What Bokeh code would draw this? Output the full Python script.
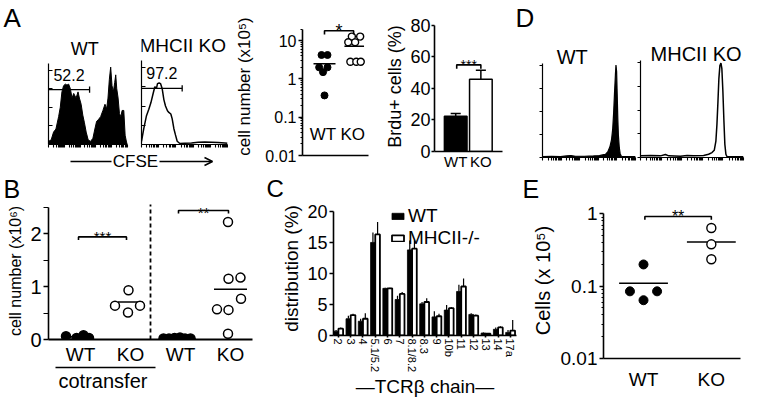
import math
from bokeh.plotting import figure
from bokeh.layouts import row, column
from bokeh.models import FixedTicker, LinearAxis, Legend, LegendItem, Arrow, OpenHead, Title
from bokeh.core.properties import value
from bokeh.embed import file_html
from bokeh.resources import INLINE

FONT = "Liberation Sans"

# ---------------- data ----------------
# A: CFSE histograms (channel 0-100, events)
cfse_wt_ch = [0, 3.4, 6.4, 9.4, 12.8, 14.9, 17, 19.1, 21.3, 23.4, 25.5, 27.7, 29.8, 31.9, 34.9, 37.4,
              39.1, 41.3, 43.4, 45.5, 47.7, 50.2, 53.2, 56.2, 58.7, 60.9, 63, 66, 68.9, 71.5, 73.6,
              75.3, 77, 78.7, 80.4, 82.1, 83.8, 85.1, 86.4, 88.1, 89.8, 91.5, 93.2, 95.3, 97, 98.7, 100]
cfse_wt_ev = [10, 15, 40, 50, 90, 120, 170, 190, 195, 192, 195, 180, 150, 165, 150, 170, 150, 130,
              95, 70, 40, 15, 10, 20, 50, 75, 80, 90, 110, 130, 115, 150, 210, 250, 190, 170, 200,
              225, 180, 150, 100, 90, 110, 110, 30, 8, 3]
cfse_ko_ch = [0, 2.7, 5.8, 8.5, 10.9, 13.6, 15.5, 17.4, 18.6, 20.5, 22.1, 24, 26, 27.9, 30.2, 31.8,
              34.1, 35.7, 37.6, 39.5, 41.5, 44.6, 50.4, 58.1, 65.9, 73.6, 81.4, 89.1, 96.9, 100]
cfse_ko_ev = [10, 50, 90, 110, 130, 160, 180, 175, 190, 192, 190, 175, 140, 120, 105, 100, 95, 80,
              50, 30, 10, 3, 4, 5, 7, 8, 7, 6, 5, 4]
gate_pct = ["52.2", "97.2"]
gate_end = [52, 47.3]
gate_level = [177, 175]
hist_titles = ["WT", "MHCII KO"]

# A: cell number (x10^5)
groups2 = ["WT", "KO"]
asc_wt = [4.2, 4.2, 2.0, 2.0, 1.5, 0.37]
asc_wt_jit = [-0.1, 0.1, -0.18, 0.1, -0.05, 0.0]
asc_ko = [12.7, 12.7, 9.0, 9.0, 2.8, 2.8, 2.8]
asc_ko_jit = [-0.08, 0.2, -0.2, 0.03, -0.13, 0.07, 0.22]
asc_mean = [2.47, 7.1]

# A: Brdu+ cells (%)
abar_mean = [22.3, 45.8]
abar_err = [1.8, 5.7]

# D: histograms
d_wt_ch = [0, 9.7, 19.4, 25.8, 30.6, 35.5, 45.2, 54.8, 61.3, 64.5, 67.7, 70.3, 72.6, 74.2, 75.5,
           76.5, 77.4, 78.4, 79, 79.7, 80.3, 81, 81.6, 82.6, 83.5, 84.8, 87.1, 93.5, 100]
d_wt_ev = [3, 4, 3, 5, 6, 4, 4, 5, 6, 8, 10, 18, 35, 55, 90, 140, 200, 260, 290, 270, 200, 120,
           70, 30, 12, 4, 3, 3, 3]
d_ko_ch = [0, 9.7, 19.4, 24.2, 27.4, 38.7, 45.2, 51.6, 61.3, 66.1, 69.4, 71.6, 73.2, 74.2, 75.2,
           76.1, 77.1, 78.1, 79, 80, 81, 81.9, 82.9, 83.9, 90.3, 100]
d_ko_ev = [5, 6, 5, 9, 5, 4, 6, 5, 6, 10, 15, 22, 50, 100, 170, 240, 280, 287, 270, 200, 110, 40,
           10, 3, 2, 2]

# B: cell number (x10^6)
b_labels = ["WT", "KO", "WT", "KO"]
b_vals = [[0.06, 0.03, 0.08, 0.03],
          [0.93, 0.64, 0.64, 0.51],
          [0.02, 0.02, 0.03, 0.04, 0.02, 0.02],
          [2.22, 1.15, 1.17, 0.77, 0.56, 0.57, 0.11]]
b_jit = [[-0.29, -0.08, 0.06, 0.17],
         [-0.04, -0.31, 0.19, -0.05],
         [-0.34, -0.23, -0.12, -0.01, 0.09, 0.2],
         [-0.05, -0.04, 0.2, 0.21, -0.04, -0.27, -0.05]]
b_filled = [True, False, True, False]
b_mean = [0.05, 0.71, 0.02, 0.95]

# C: TCR Vbeta distribution (%)
c_labels = ["2", "3", "4", "5.1/5.2", "6", "7", "8.1/8.2", "8.3", "9", "10b", "11", "12", "13", "14", "17a"]
c_wt = [0.7, 2.7, 2.3, 15.0, 7.6, 5.8, 13.8, 5.1, 3.0, 4.1, 7.1, 3.4, 0.4, 1.0, 0.5]
c_wt_err = [0.2, 0.5, 0.4, 1.6, 0.1, 0.6, 1.5, 0.3, 0.9, 0.8, 1.1, 0.2, 0.1, 0.3, 0.4]
c_ko = [1.1, 3.3, 2.7, 16.3, 7.6, 6.7, 14.0, 5.4, 3.1, 4.4, 7.9, 3.2, 0.3, 1.3, 0.8]
c_ko_err = [0.2, 0.2, 0.9, 2.0, 0.1, 0.3, 1.3, 0.6, 0.4, 0.2, 1.3, 0.2, 0.1, 0.2, 1.7]

# E: Cells (x10^5)
e_wt = [0.2, 0.085, 0.085, 0.064]
e_wt_jit = [0.0, -0.2, 0.2, 0.0]
e_ko = [0.64, 0.38, 0.236]
e_ko_jit = [0.0, 0.0, 0.0]
e_mean = [0.11, 0.41]


# ---------------- helpers ----------------
def mk(w, h, L, R, T, B, xr, yr, ylog=False, axes=True):
    kw = {}
    if not axes:
        kw = dict(x_axis_location=None, y_axis_location=None)
    p = figure(width=w, height=h, x_range=xr, y_range=yr,
               y_axis_type="log" if ylog else "linear",
               output_backend="svg", toolbar_location=None, frame_align=False,
               min_border_left=L, min_border_right=R, min_border_top=T, min_border_bottom=B, **kw)
    p.outline_line_color = None
    p.xgrid.visible = False
    p.ygrid.visible = False
    p.background_fill_color = "white"
    p.border_fill_color = "white"
    return p


def letter(p, t, offset, fs=26):
    p.add_layout(Title(text=t, align="left", offset=offset, text_font=FONT,
                       text_font_size=f"{fs}px", text_font_style="normal", text_color="black",
                       standoff=0, vertical_align="bottom"), "above")


def ax_style(ax, fs=18, lw=1.6, tick_out=4, tick_in=0, minor_out=0, minor_in=0, standoff=2):
    ax.axis_line_color = "black"
    ax.axis_line_width = lw
    ax.major_tick_line_color = "black"
    ax.major_tick_line_width = lw
    ax.major_tick_out = tick_out
    ax.major_tick_in = tick_in
    ax.minor_tick_line_color = "black" if (minor_out or minor_in) else None
    ax.minor_tick_out = minor_out
    ax.minor_tick_in = minor_in
    ax.minor_tick_line_width = 1.1
    ax.major_label_text_font = FONT
    ax.major_label_text_font_size = f"{fs}px"
    ax.major_label_text_color = "black"
    ax.major_label_standoff = standoff
    ax.axis_label_text_font = FONT
    ax.axis_label_text_font_style = "normal"
    ax.axis_label_text_color = "black"


def dtext(p, x, y, t, fs, align="center", baseline="middle"):
    p.text(x=[x], y=[y], text=[t], text_font=value(FONT), text_font_size=f"{fs}px",
           text_align=align, text_baseline=baseline, text_color="black")


def bracket(p, x0, x1, y, ylow, t, fs, ty=None):
    p.line([x0, x0, x1, x1], [ylow, y, y, ylow], line_color="black", line_width=1.6)
    dtext(p, (x0 + x1) / 2, y if ty is None else ty, t, fs, baseline="alphabetic")


def log_minor(lo_exp, hi_exp, top):
    out = []
    for e in range(lo_exp, hi_exp + 1):
        for k in range(2, 10):
            v = k * 10 ** e
            if v <= top:
                out.append(v)
    return out


def flow_axes(p, yticks, ybound, yin=True):
    ya = p.yaxis[0]
    ax_style(ya, lw=1.2, tick_out=0, minor_in=4 if yin else 0, minor_out=0 if yin else 3, standoff=0)
    ya.ticker = FixedTicker(ticks=[], minor_ticks=yticks)
    ya.bounds = (0, ybound)
    xa = p.xaxis[0]
    ax_style(xa, lw=1.2, tick_out=0, minor_out=3, standoff=0)
    xt = [d * 20 + 20 * math.log10(k) for d in range(5) for k in range(1, 10)] + [100]
    xa.ticker = FixedTicker(ticks=[], minor_ticks=xt)


# ---------------- panel A histograms ----------------
# frame: 116 px tall, histogram area = lower 84 px (262 events)
A_YMAX = 262 * 116 / 84
p_awt = mk(136, 150, 48, 9, 28, 6, (0, 100), (0, A_YMAX))
p_awt.varea(x=cfse_wt_ch, y1=0, y2=cfse_wt_ev, fill_color="black")
p_awt.line(cfse_wt_ch, cfse_wt_ev, line_color="black", line_width=1)
flow_axes(p_awt, [0, 60, 120, 180, 240], 262)

p_ako = mk(92, 150, 5, 1, 28, 6, (0, 100), (0, A_YMAX))
p_ako.line(cfse_ko_ch, cfse_ko_ev, line_color="black", line_width=1.5)
flow_axes(p_ako, [0, 60, 120, 180, 240], 262)

for p, ge, gl, gp in [(p_awt, gate_end[0], gate_level[0], gate_pct[0]),
                      (p_ako, gate_end[1], gate_level[1], gate_pct[1])]:
    p.line([0, ge], [gl, gl], line_color="black", line_width=1.3)
    p.segment(x0=[ge], y0=[gl - 10], x1=[ge], y1=[gl + 10], line_color="black", line_width=1.3)
    dtext(p, ge / 2, 224, gp, 16)

dtext(p_awt, 46, 309, hist_titles[0], 18, baseline="alphabetic")
dtext(p_ako, 48, 309, hist_titles[1], 19, baseline="alphabetic")
letter(p_awt, "A", -45)

p_arrow = mk(228, 22, 0, 0, 0, 0, (0, 228), (0, 22), axes=False)
p_arrow.segment(x0=[70], y0=[11], x1=[111], y1=[11], line_color="black", line_width=1.5)
p_arrow.add_layout(Arrow(end=OpenHead(size=8, line_width=1.5, line_color="black"),
                         x_start=159, y_start=11, x_end=212, y_end=11,
                         line_color="black", line_width=1.5))
dtext(p_arrow, 135, 11, "CFSE", 17)

# ---------------- panel A cell number ----------------
p_asc = mk(142, 172, 74, 2, 17, 17, (0.26, 2.48), (0.01, 40), ylog=True)
ya = p_asc.yaxis[0]
ax_style(ya, fs=16, tick_out=4, minor_out=2, standoff=2)
ya.ticker = FixedTicker(ticks=[0.01, 0.1, 1, 10], minor_ticks=log_minor(-2, 1, 20))
ya.major_label_overrides = {0.01: "0.01", 0.1: "0.1", 1: "1", 10: "10"}
ya.bounds = (0.01, 20)
ya.axis_label = "cell number (x10\u2075)"
ya.axis_label_text_font_size = "17px"
ya.axis_label_standoff = 8
xa = p_asc.xaxis[0]
ax_style(xa, tick_out=0, standoff=0)
xa.ticker = FixedTicker(ticks=[])

p_asc.segment(x0=[1 - 0.37, 2 - 0.33], y0=asc_mean, x1=[1 + 0.37, 2 + 0.33], y1=asc_mean,
              line_color="black", line_width=1.5)
p_asc.scatter([1 + j for j in asc_wt_jit], asc_wt, size=7, fill_color="black", line_color="black")
p_asc.scatter([2 + j for j in asc_ko_jit], asc_ko, size=7, fill_color="white", line_color="black",
              line_width=1.4)
bracket(p_asc, 1.0, 1.98, 18, 14.5, "*", 18)
for i, g in enumerate(groups2):
    dtext(p_asc, i + 1 - 0.05, 0.035, g, 17)

# ---------------- panel A Brdu ----------------
p_abar = mk(134, 172, 64, 2, 21, 19, (0.157, 2.86), (0, 82.5))
p_abar.vbar(x=[1, 2], top=abar_mean, width=0.9, fill_color=["black", "white"], line_color="black",
            line_width=1.5)
tops = [m + e for m, e in zip(abar_mean, abar_err)]
p_abar.segment(x0=[1, 2], y0=abar_mean, x1=[1, 2], y1=tops, line_color="black", line_width=1.5)
p_abar.segment(x0=[0.8, 1.8], y0=tops, x1=[1.2, 2.2], y1=tops, line_color="black", line_width=1.5)
bracket(p_abar, 1.04, 2.0, 55, 52.5, "***", 14)
yb = p_abar.yaxis[0]
ax_style(yb, fs=18, tick_out=3, standoff=1)
yb.ticker = FixedTicker(ticks=[0, 20, 40, 60, 80])
yb.bounds = (0, 80)
yb.axis_label = "Brdu+ cells (%)"
yb.axis_label_text_font_size = "18px"
yb.axis_label_standoff = 2
xb = p_abar.xaxis[0]
ax_style(xb, fs=15, tick_out=0, standoff=1)
xb.ticker = FixedTicker(ticks=[1, 2])
xb.major_label_overrides = {1: groups2[0], 2: groups2[1]}

# ---------------- panel D ----------------
# frame: 129 px tall, histogram area = lower 97 px (295 events)
D_YMAX = 295 * 129 / 97
p_dwt = mk(133, 172, 38, 2, 28, 15, (0, 100), (0, D_YMAX))
p_dwt.varea(x=d_wt_ch, y1=0, y2=d_wt_ev, fill_color="black")
p_dwt.line(d_wt_ch, d_wt_ev, line_color="black", line_width=1.2)
p_dko = mk(112, 172, 3, 6, 28, 15, (0, 100), (0, D_YMAX))
p_dko.line(d_ko_ch, d_ko_ev, line_color="black", line_width=1.5)
for p in (p_dwt, p_dko):
    flow_axes(p, [0, 72, 144, 216, 288], 295, yin=False)
dtext(p_dwt, 32, 316, hist_titles[0], 20, baseline="alphabetic")
dtext(p_dko, 54, 316, hist_titles[1], 20, baseline="alphabetic")
letter(p_dwt, "D", -27)

# ---------------- panel B ----------------
p_b = mk(262, 229, 48, 10, 28, 62, (0.36, 4.44), (0, 2.59))
halfw = [0.25, 0.25, 0.3, 0.33]
for i, (vals, jit, filled, m, hw) in enumerate(zip(b_vals, b_jit, b_filled, b_mean, halfw)):
    xpos = i + 1
    p_b.segment(x0=[xpos - hw], y0=[m], x1=[xpos + hw], y1=[m], line_color="black", line_width=1.5)
    p_b.scatter([xpos + j for j in jit], vals, size=9,
                fill_color="black" if filled else "white", line_color="black", line_width=1.5)
p_b.segment(x0=[2.4], y0=[0], x1=[2.4], y1=[2.55], line_color="black", line_width=1.8,
            line_dash="4 3")
bracket(p_b, 0.96, 1.92, 1.94, 1.88, "***", 15)
bracket(p_b, 2.96, 3.96, 2.44, 2.38, "**", 15, ty=2.40)
ybb = p_b.yaxis[0]
ax_style(ybb, fs=20, tick_out=5, minor_out=5, standoff=2)
ybb.ticker = FixedTicker(ticks=[0, 1, 2], minor_ticks=[0.5, 1.5, 2.5])
ybb.bounds = (0, 2.5)
ybb.axis_label = "cell number (x10\u2076)"
ybb.axis_label_text_font_size = "16px"
ybb.axis_label_standoff = 3
xbb = p_b.xaxis[0]
ax_style(xbb, fs=19, tick_out=0, lw=1.8, standoff=4)
xbb.ticker = FixedTicker(ticks=[1, 2, 3, 4])
xbb.major_label_overrides = {i + 1: t for i, t in enumerate(b_labels)}
cot = LinearAxis(ticker=FixedTicker(ticks=[]), bounds=(0.5, 2.5))
ax_style(cot, tick_out=0, lw=1.3, standoff=0)
p_b.add_layout(cot, "below")
p_b.add_layout(Title(text="cotransfer", align="left", offset=10, text_font=FONT,
                     text_font_size="20px", text_font_style="normal", text_color="black",
                     standoff=0), "below")
letter(p_b, "B", -45, 25)

# ---------------- panel C ----------------
p_c = mk(255, 229, 71, 1, 27, 66, (-0.4, 14.5), (0, 21.6))
xi = list(range(len(c_labels)))
r_wt = p_c.vbar(x=[i - 0.19 for i in xi], top=c_wt, width=0.38, fill_color="black",
                line_color="black", line_width=0.8)
r_ko = p_c.vbar(x=[i + 0.19 for i in xi], top=c_ko, width=0.38, fill_color="white",
                line_color="black", line_width=1.8)
p_c.segment(x0=[i - 0.19 for i in xi], y0=c_wt, x1=[i - 0.19 for i in xi],
            y1=[m + e for m, e in zip(c_wt, c_wt_err)], line_color="black", line_width=1.2)
p_c.segment(x0=[i + 0.19 for i in xi], y0=c_ko, x1=[i + 0.19 for i in xi],
            y1=[m + e for m, e in zip(c_ko, c_ko_err)], line_color="black", line_width=1.2)
ycc = p_c.yaxis[0]
ax_style(ycc, fs=18, tick_out=4, standoff=2)
ycc.ticker = FixedTicker(ticks=[0, 5, 10, 15, 20])
ycc.bounds = (0, 20)
ycc.axis_label = "distribution (%)"
ycc.axis_label_text_font_size = "19px"
ycc.axis_label_standoff = 2
xcc = p_c.xaxis[0]
ax_style(xcc, fs=11, tick_out=2, standoff=1)
xcc.ticker = FixedTicker(ticks=xi)
xcc.major_label_overrides = {i: t for i, t in enumerate(c_labels)}
xcc.major_label_orientation = "vertical"
xcc.axis_label = "\u2014TCR\u03b2 chain\u2014"
xcc.axis_label_text_font_size = "19px"
xcc.axis_label_standoff = 1
leg = Legend(items=[LegendItem(label="WT", renderers=[r_wt]),
                    LegendItem(label="MHCII-/-", renderers=[r_ko])],
             location=(57, 86), glyph_width=15, glyph_height=8, label_text_font=FONT,
             label_text_font_size="19px", label_text_color="black", label_standoff=3,
             spacing=0, padding=0, margin=0, border_line_color=None, background_fill_alpha=0,
             label_height=18)
p_c.add_layout(leg)
letter(p_c, "C", -67, 24)

# ---------------- panel E ----------------
p_e = mk(232, 229, 86, 9, 28, 43, (0.41, 2.43), (0.01, 1.44), ylog=True)
p_e.segment(x0=[1 - 0.36, 2 - 0.36], y0=e_mean, x1=[1 + 0.36, 2 + 0.36], y1=e_mean,
            line_color="black", line_width=1.5)
p_e.scatter([1 + j for j in e_wt_jit], e_wt, size=9, fill_color="black", line_color="black")
p_e.scatter([2 + j for j in e_ko_jit], e_ko, size=9, fill_color="white", line_color="black",
            line_width=1.4)
bracket(p_e, 1.02, 2.0, 0.92, 0.83, "**", 16)
ye = p_e.yaxis[0]
ax_style(ye, fs=19, tick_out=4, minor_out=2, standoff=2)
ye.ticker = FixedTicker(ticks=[0.01, 0.1, 1], minor_ticks=log_minor(-2, -1, 1))
ye.major_label_overrides = {0.01: "0.01", 0.1: "0.1", 1: "1"}
ye.bounds = (0.01, 1)
ye.axis_label = "Cells (x 10\u2075)"
ye.axis_label_text_font_size = "20px"
ye.axis_label_standoff = 4
xe = p_e.xaxis[0]
ax_style(xe, fs=19, tick_out=0, standoff=10)
xe.ticker = FixedTicker(ticks=[1, 2])
xe.major_label_overrides = {1: groups2[0], 2: groups2[1]}
letter(p_e, "E", -81, 25)

# ---------------- layout ----------------
top = row(column(row(p_awt, p_ako), p_arrow), p_asc, p_abar, p_dwt, p_dko)
bottom = row(p_b, p_c, p_e)
layout = column(top, bottom)

open("out.html", "w").write(file_html(layout, INLINE))
